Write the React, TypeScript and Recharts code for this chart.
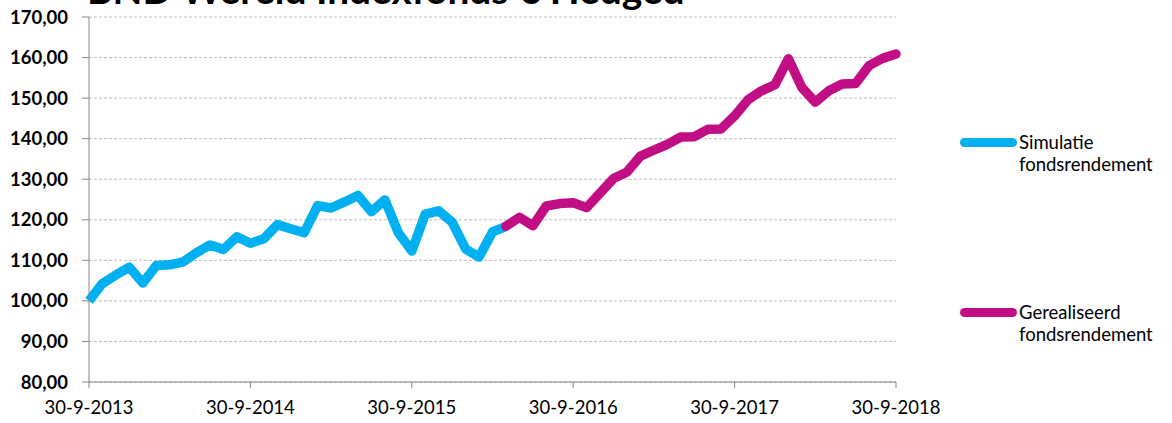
import React from 'react';
import { LineChart, Line, XAxis, YAxis, CartesianGrid } from 'recharts';

// maandelijkse waarden, 30-9-2013 t/m 30-9-2018
const SIMULATIE = [
  100, 104.3, 106.4, 108.3, 104.4, 108.7, 108.9, 109.6, 111.9, 113.8,
  112.7, 115.8, 114.2, 115.3, 118.8, 117.8, 116.8, 123.5, 122.9, 124.4,
  126, 122, 124.9, 116.8, 112.3, 121.4, 122.2, 119.4, 112.8, 110.8,
  117, 118.4,
];
const GEREALISEERD_START = 31;
const GEREALISEERD = [
  118.4, 120.6, 118.5, 123.4, 124, 124.2, 123, 126.6, 130.2, 131.8,
  135.7, 137.2, 138.6, 140.4, 140.5, 142.3, 142.4, 145.6, 149.6, 151.8,
  153.3, 159.7, 152.6, 149, 151.8, 153.5, 153.6, 158, 159.8, 160.9,
];
const X_LABELS = ['30-9-2013', '30-9-2014', '30-9-2015', '30-9-2016', '30-9-2017', '30-9-2018'];
const X_TICKS = [0, 12, 24, 36, 48, 60];
const Y_TICKS = [80, 90, 100, 110, 120, 130, 140, 150, 160, 170];

const BLUE = '#00B0F0';
const MAGENTA = '#C20E84';
const FONT = 'Lato, "Open Sans", sans-serif';

const data = Array.from({ length: 61 }, (_, m) => ({
  m,
  sim: m < SIMULATIE.length ? SIMULATIE[m] : null,
  real: m >= GEREALISEERD_START ? GEREALISEERD[m - GEREALISEERD_START] : null,
}));

const LEGEND_ITEMS = [
  { color: BLUE, lines: ['Simulatie', 'fondsrendement'], top: 131 },
  { color: MAGENTA, lines: ['Gerealiseerd', 'fondsrendement'], top: 301 },
];

function ChartLegend() {
  return (
    <>
      {LEGEND_ITEMS.map((it) => (
        <div key={it.lines[0]} style={{ position: 'absolute', left: 960, top: it.top }}>
          <div
            style={{
              position: 'absolute', left: 0, top: 6.5, width: 57, height: 9,
              borderRadius: 4.5, background: it.color,
            }}
          />
          <div
            style={{
              position: 'absolute', left: 59, top: 0, fontFamily: FONT,
              fontSize: 18.5, lineHeight: '22px', color: '#000', whiteSpace: 'nowrap',
            }}
          >
            {it.lines[0]}
            <br />
            {it.lines[1]}
          </div>
        </div>
      ))}
    </>
  );
}

export default function App() {
  return (
    <div style={{ position: 'absolute', left: 0, top: 0, width: 1172, height: 423, background: '#fff', overflow: 'hidden' }}>
      <LineChart width={1172} height={423} data={data} margin={{ top: 17, right: 276, bottom: 0, left: 0 }}>
        <CartesianGrid vertical={false} stroke="#BEBEBE" strokeDasharray="3 2" />
        <XAxis
          dataKey="m"
          type="number"
          domain={[0, 60]}
          ticks={X_TICKS}
          tickFormatter={(v: number) => X_LABELS[v / 12]}
          height={41}
          tickSize={6}
          tickMargin={13}
          stroke="#868686"
          tick={{ fontFamily: FONT, fontSize: 18.5, fill: '#000' }}
          interval={0}
        />
        <YAxis
          domain={[80, 170]}
          ticks={Y_TICKS}
          tickFormatter={(v: number) => v.toFixed(2).replace('.', ',')}
          width={89}
          tickSize={7}
          tickMargin={14}
          stroke="#868686"
          tick={{ fontFamily: FONT, fontSize: 18.5, fontWeight: 700, fill: '#000' }}
          interval={0}
        />
        <Line
          dataKey="sim"
          stroke={BLUE}
          strokeWidth={9.5}
          strokeLinejoin="round"
          dot={false}
          activeDot={false}
          isAnimationActive={false}
          connectNulls={false}
        />
        <Line
          dataKey="real"
          stroke={MAGENTA}
          strokeWidth={9.5}
          strokeLinejoin="round"
          strokeLinecap="round"
          dot={false}
          activeDot={false}
          isAnimationActive={false}
          connectNulls={false}
        />
      </LineChart>
      <div
        style={{
          position: 'absolute', left: 87, top: -30, fontFamily: FONT, fontWeight: 700,
          fontSize: 38.8, lineHeight: '38.8px', color: '#000', whiteSpace: 'nowrap',
        }}
      >
        BND Wereld Indexfonds € Hedged
      </div>
      <ChartLegend />
    </div>
  );
}
